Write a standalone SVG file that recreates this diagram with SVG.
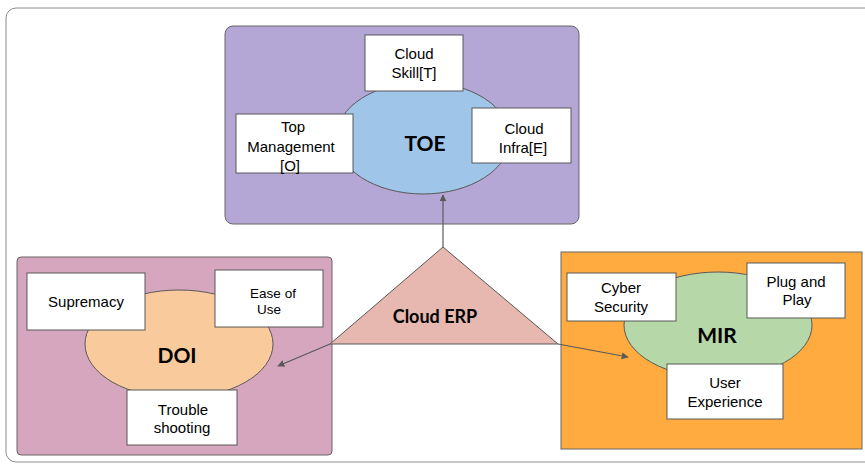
<svg xmlns="http://www.w3.org/2000/svg" width="865" height="466" viewBox="0 0 865 466">
<defs>
<style>
.frame{fill:#fff;stroke:#8c8c8c;stroke-width:1}
.panel{stroke:#666;stroke-width:1}
.ell{stroke:#595959;stroke-width:1}
.box{fill:#fff;stroke:#595959;stroke-width:1}
.t{font-family:"Liberation Sans",Arial,sans-serif;font-size:15px;fill:#000;text-anchor:middle}
.b{font-family:Lato,"Liberation Sans",sans-serif;font-weight:bold;font-size:21px;fill:#000;text-anchor:middle}
.con{stroke:#595959;stroke-width:1.2;fill:none}
</style>
<marker id="ah" viewBox="0 0 10 10" refX="9" refY="5" markerWidth="7" markerHeight="7" markerUnits="userSpaceOnUse" orient="auto">
<path d="M0,0 L10,5 L0,10 z" fill="#595959"/>
</marker>
</defs>
<rect class="frame" x="6" y="8" width="875" height="454" rx="10"/>

<g id="toe">
<rect class="panel" x="225" y="26" width="354" height="198" rx="8" fill="#b4a7d6"/>
<ellipse class="ell" cx="423" cy="138" rx="87" ry="56" fill="#9fc5e8"/>
<text class="b" x="425" y="151">TOE</text>
</g>
<g id="cloud-skill">
<rect class="box" x="365" y="35" width="98" height="56"/>
<text class="t" x="414" y="59">Cloud</text>
<text class="t" x="414" y="78">Skill[T]</text>
</g>
<g id="top-management">
<rect class="box" x="236" y="114" width="117" height="59"/>
<text class="t" x="293" y="132">Top</text>
<text class="t" x="291" y="152">Management</text>
<text class="t" x="290" y="171">[O]</text>
</g>
<g id="cloud-infra">
<rect class="box" x="472" y="108" width="99" height="55"/>
<text class="t" x="524" y="134">Cloud</text>
<text class="t" x="523" y="153">Infra[E]</text>
</g>

<g id="doi">
<rect class="panel" x="17" y="257" width="315" height="198" rx="4" fill="#d5a6bd"/>
<ellipse class="ell" cx="179" cy="344" rx="94" ry="54" fill="#f9cb9c"/>
<text class="b" x="177" y="363">DOI</text>
</g>
<g id="supremacy">
<rect class="box" x="27" y="273" width="118" height="57"/>
<text class="t" x="86" y="307">Supremacy</text>
</g>
<g id="ease-of-use">
<rect class="box" x="215" y="270" width="108" height="57"/>
<text class="t" x="273" y="298" style="font-size:13.5px">Ease of</text>
<text class="t" x="269" y="314" style="font-size:13.5px">Use</text>
</g>
<g id="trouble-shooting">
<rect class="box" x="127" y="390" width="110" height="55"/>
<text class="t" x="183" y="415">Trouble</text>
<text class="t" x="182" y="433">shooting</text>
</g>

<g id="mir">
<rect class="panel" x="561" y="252" width="301" height="197" fill="#ffab40"/>
<ellipse class="ell" cx="718" cy="325" rx="94" ry="53" fill="#b6d7a8"/>
<text class="b" x="717" y="343">MIR</text>
</g>
<g id="cyber-security">
<rect class="box" x="567" y="273" width="109" height="48"/>
<text class="t" x="621" y="293">Cyber</text>
<text class="t" x="621" y="312">Security</text>
</g>
<g id="plug-and-play">
<rect class="box" x="747" y="263" width="98" height="55"/>
<text class="t" x="796" y="287">Plug and</text>
<text class="t" x="797" y="305">Play</text>
</g>
<g id="user-experience">
<rect class="box" x="667" y="364" width="116" height="55"/>
<text class="t" x="725" y="388">User</text>
<text class="t" x="725" y="407">Experience</text>
</g>

<g id="connectors">
<line class="con" x1="443" y1="247" x2="443" y2="195" marker-end="url(#ah)"/>
<line class="con" x1="330" y1="344" x2="278" y2="366" marker-end="url(#ah)"/>
<line class="con" x1="558" y1="344" x2="628" y2="357" marker-end="url(#ah)"/>
</g>

<g id="cloud-erp">
<polygon points="443,247 330,344 558,344" fill="#e6b8af" stroke="#595959" stroke-width="1"/>
<text class="b" x="435" y="323" style="font-size:18px">Cloud ERP</text>
</g>
</svg>
